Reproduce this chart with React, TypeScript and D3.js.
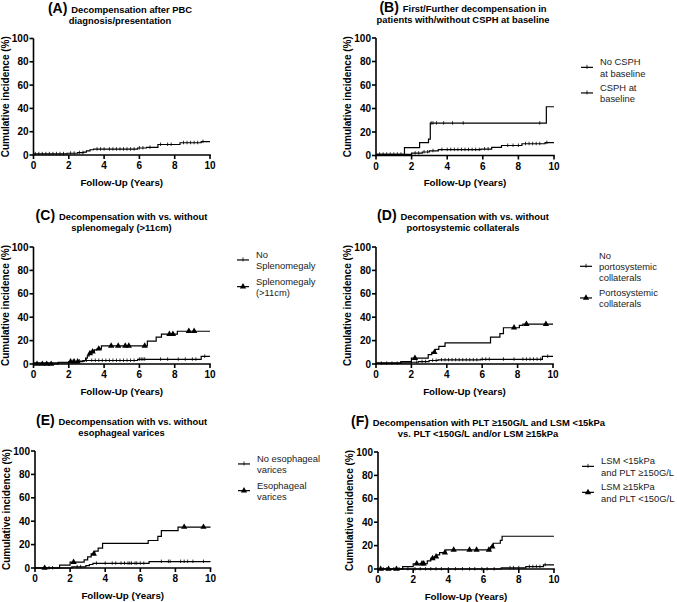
import * as d3 from 'd3'

const xTicks = [0, 2, 4, 6, 8, 10]
const yTicks = [0, 20, 40, 60, 80, 100]

// (A) overall
const aTimes = [0, 1.9, 2.5, 2.85, 3.0, 3.2, 3.4, 5.9, 6.4, 7.05, 8.3, 9.5]
const aValues = [1, 1.5, 2, 2.5, 3.5, 4.5, 5, 6, 6.5, 9, 10.5, 11.5]
const aCensor = [0.1, 0.3, 0.5, 0.7, 0.9, 1.1, 1.3, 1.5, 1.7, 2.1, 2.3, 2.6, 2.8, 3.6, 3.8, 4.0, 4.3, 4.5, 4.7, 4.9, 5.1, 5.3, 5.5, 5.7, 6.0, 6.2, 6.6, 7.2, 7.6, 7.8, 8.5, 8.7, 8.9, 9.1, 9.3, 9.6]

// (B) CSPH
const bNoTimes = [0, 1.6, 2.45, 2.95, 3.05, 9.57]
const bNoValues = [1, 6.7, 11, 14, 27.5, 41.5]
const bNoCensor = [3.1, 3.2, 3.4, 3.8, 4.3, 4.9, 9.2]
const bYesTimes = [0, 2.0, 2.6, 3.0, 3.5, 5.9, 6.5, 7.05, 8.2, 9.5]
const bYesValues = [1, 2, 3, 4, 5, 5.5, 7, 8.5, 10, 11]
const bYesCensor = [0.2, 0.4, 0.6, 0.8, 1.0, 1.2, 1.4, 2.2, 2.4, 2.7, 2.9, 3.2, 3.7, 4.0, 4.2, 4.4, 4.6, 4.8, 5.0, 5.2, 5.4, 5.6, 5.8, 6.1, 6.3, 7.4, 7.7, 8.0, 8.4, 8.6, 8.8, 9.0, 9.2, 9.6]

// (C) splenomegaly
const cNoTimes = [0, 1.4, 2.0, 2.5, 2.9, 5.9, 9.5]
const cNoValues = [1, 1.5, 2, 2.5, 3, 4, 6.5]
const cNoCensor = [2.2, 2.6, 3.0, 3.3, 3.5, 3.7, 3.9, 4.1, 4.3, 4.5, 4.7, 4.9, 5.1, 5.3, 5.5, 5.7, 6.0, 6.1, 6.2, 6.3, 7.2, 7.6, 8.2, 8.6, 9.0, 9.2, 9.7]
const cYesTimes = [0, 1.4, 2.0, 2.8, 2.95, 3.05, 3.15, 3.3, 3.45, 3.6, 3.85, 6.45, 6.95, 7.25, 8.15]
const cYesValues = [0, 1, 2, 3, 5, 7, 9, 10.5, 12, 13, 15.5, 19.5, 23, 25.5, 28]
const cYesCensor = [0.2, 0.5, 0.75, 1.0, 2.1, 2.3, 2.5, 3.2, 3.35, 3.7, 4.4, 4.8, 5.2, 5.4, 6.3, 7.7, 7.9, 8.8, 9.1]

// (D) portosystemic collaterals
const dNoTimes = [0, 1.4, 2.0, 2.4, 3.0, 3.5, 5.9, 9.4]
const dNoValues = [0.5, 1, 1.5, 2, 3, 3.5, 4, 6.5]
const dNoCensor = [0.3, 0.6, 0.9, 1.2, 2.3, 2.6, 2.8, 3.2, 3.4, 3.7, 3.9, 4.1, 4.3, 4.5, 4.7, 4.9, 5.1, 5.3, 5.5, 5.7, 6.0, 6.2, 6.4, 7.2, 7.8, 8.3, 8.5, 8.7, 8.9, 9.1, 9.3, 9.7]
const dYesTimes = [0, 1.4, 2.0, 2.95, 3.15, 3.35, 3.55, 3.9, 6.47, 7.0, 7.2, 8.1, 8.3]
const dYesValues = [1, 2, 5, 8, 10, 12.5, 15, 18, 23, 26, 31, 33, 34]
const dYesCensor = [2.2, 3.3, 7.8, 8.5, 9.6]

// (E) esophageal varices
const eNoTimes = [0, 2.1, 2.9, 3.1, 3.3, 6.5]
const eNoValues = [0, 1, 2, 3, 4, 5.5]
const eNoCensor = [0.8, 1.0, 2.4, 2.6, 3.5, 4.0, 4.4, 4.6, 4.9, 5.1, 5.3, 5.4, 5.5, 5.7, 5.8, 6.0, 6.2, 7.2, 7.6, 7.7, 8.3, 8.5, 8.7, 9.0, 9.6]
const eYesTimes = [0, 1.4, 2.0, 2.8, 3.0, 3.2, 3.4, 3.6, 3.85, 6.45, 7.0, 7.2, 8.15]
const eYesValues = [0, 2.5, 5, 7, 9.5, 12, 14.5, 17, 21, 23.5, 27, 32, 35]
const eYesCensor = [0.55, 2.2, 3.35, 8.5, 9.6]

// (F) PLT / LSM
const fLowTimes = [0, 7.0, 8.4, 9.4]
const fLowValues = [0, 1, 2, 3.5]
const fLowCensor = [0.3, 0.5, 0.9, 1.2, 1.7, 2.1, 2.4, 2.7, 3.0, 3.3, 3.6, 4.0, 4.4, 4.8, 5.2, 5.5, 5.9, 6.2, 6.6, 7.5, 7.7, 8.0, 8.6, 8.8, 9.0, 9.2, 9.5]
const fHighTimes = [0, 1.4, 2.0, 2.8, 3.0, 3.2, 3.35, 3.5, 3.85, 6.4, 6.55, 6.95, 7.05]
const fHighValues = [0, 2, 4.5, 7, 9, 10.5, 12, 14, 16.3, 19, 22, 24.5, 28]
const fHighCensor = [0.15, 0.6, 1.05, 2.2, 2.5, 2.6, 3.1, 3.3, 3.8, 4.3, 5.2, 5.6, 6.3, 6.5]

const FONT = '"Liberation Sans", Arial, Helvetica, sans-serif'

type Series = { times: number[]; values: number[]; censor: number[]; mark: 'tick' | 'tri' }
type LegendItem = { lines: string[]; mark: 'tick' | 'tri'; y: number }
type PanelCfg = {
  x0: number; x1: number; y0: number; y100: number
  tcx: number; t1y: number; letter: string; t1: string; t2: string
  series: Series[]
  legendX?: number
  legend?: LegendItem[]
}

const panels: PanelCfg[] = [
  {
    x0: 33.5, x1: 210, y0: 155, y100: 38.5, tcx: 120, t1y: 12.5, letter: 'A',
    t1: 'Decompensation after PBC', t2: 'diagnosis/presentation',
    series: [{ times: aTimes, values: aValues, censor: aCensor, mark: 'tick' }],
  },
  {
    x0: 376, x1: 554, y0: 155.5, y100: 38, tcx: 463, t1y: 12, letter: 'B',
    t1: 'First/Further decompensation in', t2: 'patients with/without CSPH at baseline',
    series: [
      { times: bNoTimes, values: bNoValues, censor: bNoCensor, mark: 'tick' },
      { times: bYesTimes, values: bYesValues, censor: bYesCensor, mark: 'tick' },
    ],
    legendX: 581,
    legend: [
      { lines: ['No CSPH', 'at baseline'], mark: 'tick', y: 61.7 },
      { lines: ['CSPH at', 'baseline'], mark: 'tick', y: 87.3 },
    ],
  },
  {
    x0: 33.5, x1: 210, y0: 364, y100: 247, tcx: 121.5, t1y: 220, letter: 'C',
    t1: 'Decompensation with vs. without', t2: 'splenomegaly (>11cm)',
    series: [
      { times: cNoTimes, values: cNoValues, censor: cNoCensor, mark: 'tick' },
      { times: cYesTimes, values: cYesValues, censor: cYesCensor, mark: 'tri' },
    ],
    legendX: 237,
    legend: [
      { lines: ['No', 'Splenomegaly'], mark: 'tick', y: 254.3 },
      { lines: ['Splenomegaly', '(>11cm)'], mark: 'tri', y: 281 },
    ],
  },
  {
    x0: 376, x1: 553, y0: 364, y100: 247, tcx: 463, t1y: 220, letter: 'D',
    t1: 'Decompensation with vs. without', t2: 'portosystemic collaterals',
    series: [
      { times: dNoTimes, values: dNoValues, censor: dNoCensor, mark: 'tick' },
      { times: dYesTimes, values: dYesValues, censor: dYesCensor, mark: 'tri' },
    ],
    legendX: 580,
    legend: [
      { lines: ['No', 'portosystemic', 'collaterals'], mark: 'tick', y: 255 },
      { lines: ['Portosystemic', 'collaterals'], mark: 'tri', y: 292.3 },
    ],
  },
  {
    x0: 35, x1: 210.5, y0: 568, y100: 451, tcx: 121.5, t1y: 424.5, letter: 'E',
    t1: 'Decompensation with vs. without', t2: 'esophageal varices',
    series: [
      { times: eNoTimes, values: eNoValues, censor: eNoCensor, mark: 'tick' },
      { times: eYesTimes, values: eYesValues, censor: eYesCensor, mark: 'tri' },
    ],
    legendX: 238,
    legend: [
      { lines: ['No esophageal', 'varices'], mark: 'tick', y: 458.3 },
      { lines: ['Esophageal', 'varices'], mark: 'tri', y: 485 },
    ],
  },
  {
    x0: 378, x1: 554, y0: 569, y100: 452, tcx: 478, t1y: 426, letter: 'F',
    t1: 'Decompensation with PLT \u2265150G/L and LSM <15kPa', t2: 'vs. PLT <150G/L and/or LSM \u226515kPa',
    series: [
      { times: fLowTimes, values: fLowValues, censor: fLowCensor, mark: 'tick' },
      { times: fHighTimes, values: fHighValues, censor: fHighCensor, mark: 'tri' },
    ],
    legendX: 582,
    legend: [
      { lines: ['LSM <15kPa', 'and PLT \u2265150G/L'], mark: 'tick', y: 460.7 },
      { lines: ['LSM \u226515kPa', 'and PLT <150G/L'], mark: 'tri', y: 486.7 },
    ],
  },
]

const tri = d3.symbol().type(d3.symbolTriangle).size(17)() as string

function stepAt(times: number[], values: number[], t: number) {
  let v = values[0]
  for (let i = 0; i < times.length; i++) if (times[i] <= t) v = values[i]
  return v
}

function Panel({ p }: { p: PanelCfg }) {
  const x = d3.scaleLinear().domain([0, 10]).range([p.x0, p.x1])
  const y = d3.scaleLinear().domain([0, 100]).range([p.y0, p.y100])
  const line = d3.line<[number, number]>().x(d => x(d[0])).y(d => y(d[1])).curve(d3.curveStepAfter)
  const midY = (p.y0 + p.y100) / 2
  const lh = 11.3

  return (
    <g fontFamily={FONT}>
      <text x={p.tcx} y={p.t1y} textAnchor="middle" fontWeight="bold" fontSize={9.4}>
        <tspan fontSize={14}>({p.letter}) </tspan>{p.t1}
      </text>
      <text x={p.tcx} y={p.t1y + 11} textAnchor="middle" fontWeight="bold" fontSize={9.4}>{p.t2}</text>

      {/* curves */}
      {p.series.map((s, i) => {
        const pts: [number, number][] = s.times.map((t, j) => [t, s.values[j]] as [number, number])
        pts.push([10, s.values[s.values.length - 1]])
        return (
          <g key={i}>
            <path d={line(pts) || ''} fill="none" stroke="#000" strokeWidth={1.2} />
            {s.censor.map((t, j) => {
              const cx = x(t), cy = y(stepAt(s.times, s.values, t))
              return s.mark === 'tri'
                ? <path key={j} d={tri} transform={`translate(${cx},${cy})`} fill="#000" />
                : <line key={j} x1={cx} x2={cx} y1={cy - 2} y2={cy + 1.5} stroke="#000" strokeWidth={0.8} />
            })}
          </g>
        )
      })}

      {/* axes */}
      <line x1={p.x0} x2={p.x0} y1={p.y100} y2={p.y0 + 0.8} stroke="#000" strokeWidth={1.6} />
      <line x1={p.x0} x2={p.x1 + 0.8} y1={p.y0} y2={p.y0} stroke="#000" strokeWidth={1.6} />
      {yTicks.map(t => (
        <g key={'y' + t}>
          <line x1={p.x0 - 4} x2={p.x0} y1={y(t)} y2={y(t)} stroke="#000" strokeWidth={1.6} />
          <text x={p.x0 - 5} y={y(t) + 3.6} textAnchor="end" fontSize={10} fontWeight="bold">{t}</text>
        </g>
      ))}
      {xTicks.map(t => (
        <g key={'x' + t}>
          <line x1={x(t)} x2={x(t)} y1={p.y0} y2={p.y0 + 4} stroke="#000" strokeWidth={1.6} />
          <text x={x(t)} y={p.y0 + 14} textAnchor="middle" fontSize={10} fontWeight="bold">{t}</text>
        </g>
      ))}
      <text transform={`translate(${p.x0 - 25},${midY}) rotate(-90)`} textAnchor="middle" fontSize={10} fontWeight="bold">
        Cumulative incidence (%)
      </text>
      <text x={(p.x0 + p.x1) / 2} y={p.y0 + 30.5} textAnchor="middle" fontSize={9.8} fontWeight="bold">
        Follow-Up (Years)
      </text>

      {/* legend */}
      {p.legend && p.legend.map((l, i) => {
        const lx = p.legendX as number
        const my = l.y + ((l.lines.length - 1) * lh) / 2
        return (
          <g key={'l' + i}>
            <line x1={lx} x2={lx + 12} y1={my} y2={my} stroke="#000" strokeWidth={1.2} />
            {l.mark === 'tri'
              ? <path d={tri} transform={`translate(${lx + 6},${my})`} fill="#000" />
              : <line x1={lx + 6} x2={lx + 6} y1={my - 2.5} y2={my + 1.5} stroke="#000" strokeWidth={0.8} />}
            {l.lines.map((s, k) => (
              <text key={k} x={lx + 19} y={l.y + k * lh + 3.5} fontSize={9.4} fill="#222">{s}</text>
            ))}
          </g>
        )
      })}
    </g>
  )
}

export default function App() {
  return (
    <svg width={677} height={602} style={{ position: 'absolute', left: 0, top: 0, background: '#fff' }}>
      {panels.map(p => <Panel key={p.letter} p={p} />)}
    </svg>
  )
}
